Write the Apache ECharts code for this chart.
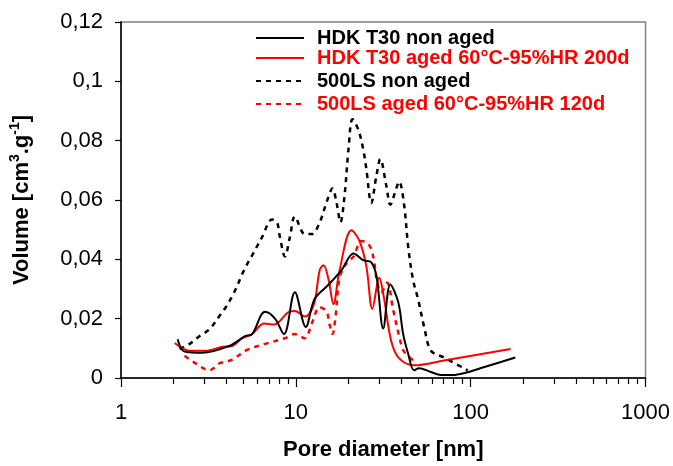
<!DOCTYPE html>
<html>
<head>
<meta charset="utf-8">
<script src="https://cdn.jsdelivr.net/npm/echarts@6/dist/echarts.min.js"></script>
<style>
html,body{margin:0;padding:0;background:#fff;}
#chart{width:673px;height:466px;}
</style>
</head>
<body>
<div id="chart"></div>
<script>
// ---- data (pore diameter [nm], volume [cm3/g]) ----
const seriesNames = [
  'HDK T30 non aged',
  'HDK T30 aged 60°C-95%HR 200d',
  '500LS non aged',
  '500LS aged 60°C-95%HR 120d'
];

const hdkNonAgedD = [2.11, 2.31, 2.92, 4.16, 5.13, 5.62, 6.67, 7.60, 8.55, 9.87, 11.4, 12.8, 15.4, 18.25, 21.4, 24.3, 27.0, 28.9, 31.6, 34.7, 38.5, 41.1, 43.9, 47.4, 50.6, 59.3, 67.5, 79.0, 91.3, 118.5, 180];
const hdkNonAgedV = [0.0131, 0.0089, 0.0085, 0.0108, 0.0141, 0.0148, 0.0223, 0.0200, 0.0148, 0.0289, 0.0172, 0.0266, 0.0315, 0.0364, 0.0420, 0.0397, 0.0390, 0.0344, 0.0167, 0.0315, 0.0256, 0.0148, 0.0082, 0.0026, 0.0033, 0.0020, 0.0010, 0.0010, 0.0016, 0.0036, 0.0069];

const hdkAgedD = [2.03, 2.47, 3.04, 3.80, 4.33, 4.93, 5.62, 6.58, 7.50, 9.12, 9.87, 11.25, 12.65, 13.7, 14.4, 15.4, 16.4, 17.8, 20.8, 23.1, 25.3, 27.4, 30.0, 32.0, 35.1, 39.0, 47.4, 70.3, 169];
const hdkAgedV = [0.0118, 0.0092, 0.0092, 0.0105, 0.0108, 0.0134, 0.0148, 0.0184, 0.0180, 0.0223, 0.0226, 0.0207, 0.0246, 0.0364, 0.0380, 0.0331, 0.0249, 0.0364, 0.0498, 0.0462, 0.0377, 0.0233, 0.0338, 0.0266, 0.0125, 0.0066, 0.0043, 0.0059, 0.0098];

const ls500NonAgedD = [2.16, 2.47, 2.81, 3.20, 3.70, 3.95, 4.44, 5.06, 5.62, 6.41, 7.31, 7.80, 8.11, 8.66, 9.25, 9.87, 11.25, 12.33, 13.7, 15.0, 16.2, 17.1, 18.0, 19.0, 20.0, 21.1, 22.8, 24.3, 25.3, 27.0, 28.9, 30.4, 32.9, 34.7, 37.5, 39.0, 41.6, 43.9, 46.8, 50.0, 54.1, 59.3, 70.3, 96.2];
const ls500NonAgedV = [0.0098, 0.0115, 0.0141, 0.0164, 0.0213, 0.0236, 0.0289, 0.0364, 0.0413, 0.0475, 0.0534, 0.0525, 0.0475, 0.0410, 0.0475, 0.0544, 0.0485, 0.0485, 0.0525, 0.0593, 0.0639, 0.0590, 0.0525, 0.0616, 0.0770, 0.0872, 0.0836, 0.0770, 0.0705, 0.0590, 0.0682, 0.0738, 0.0649, 0.0584, 0.0639, 0.0662, 0.0584, 0.0443, 0.0331, 0.0266, 0.0174, 0.0092, 0.0069, 0.0026];

const ls500AgedD = [2.31, 2.63, 3.20, 3.65, 4.33, 5.27, 6.67, 8.66, 9.87, 11.25, 12.33, 13.7, 15.0, 15.6, 16.2, 16.9, 17.8, 19.5, 21.4, 23.7, 26.0, 27.7, 29.2, 30.8, 33.3, 36.0, 39.0, 41.6, 48.7];
const ls500AgedV = [0.0075, 0.0052, 0.0026, 0.0049, 0.0062, 0.0095, 0.0115, 0.0134, 0.0148, 0.0134, 0.0184, 0.0239, 0.0223, 0.0180, 0.0148, 0.0213, 0.0338, 0.0387, 0.0410, 0.0462, 0.0452, 0.0410, 0.0321, 0.0289, 0.0321, 0.0230, 0.0141, 0.0089, 0.0052];

const xMajorTicks = [1, 10, 100, 1000];
const xMinorTicks = [2,3,4,5,6,7,8,9,20,30,40,50,60,70,80,90,200,300,400,500,600,700,800,900];
const yTicks = [0, 0.02, 0.04, 0.06, 0.08, 0.1, 0.12];

// ---- build ----
function pairs(d, v){ return d.map((x,i)=>[x, v[i]]); }
const colors = ['#000000', '#ff0000', '#000000', '#ff0000'];
const dashed = [false, false, true, true];
const dataSets = [pairs(hdkNonAgedD, hdkNonAgedV), pairs(hdkAgedD, hdkAgedV), pairs(ls500NonAgedD, ls500NonAgedV), pairs(ls500AgedD, ls500AgedV)];

const legendRowsY = [38, 58, 81, 104];
const legends = seriesNames.map((n,i)=>({
  left: 255,
  top: legendRowsY[i] - 10,
  padding: 0,
  itemWidth: 48,
  itemHeight: 14,
  itemStyle: {opacity: 0},
  data: [{name: n, textStyle: {color: colors[i]}}],
  textStyle: {fontFamily: 'Liberation Sans, Arial, sans-serif', fontSize: 20, fontWeight: 'bold', lineHeight: 20, padding: [0,0,0,8]},
  selectedMode: false
}));

const font = 'Liberation Sans, Arial, sans-serif';
const chart = echarts.init(document.getElementById('chart'), null, {renderer: 'canvas'});
chart.setOption({
  animation: false,
  backgroundColor: '#fff',
  legend: legends,
  grid: {left: 118, right: 27, top: 22, bottom: 78, show: true, borderColor: '#808080', borderWidth: 1.5, backgroundColor: 'transparent'},
  xAxis: [{
    type: 'log', logBase: 10, min: 1, max: 1000,
    name: 'Pore diameter [nm]', nameLocation: 'middle', nameGap: 61,
    nameTextStyle: {fontFamily: font, fontSize: 22, fontWeight: 'bold', color: '#000'},
    axisLine: {show: true, onZero: false, lineStyle: {color: '#000', width: 1.5}},
    axisTick: {show: true, inside: false, length: 9, lineStyle: {color: '#000', width: 1.2}, customValues: xMajorTicks},
    axisLabel: {fontFamily: font, fontSize: 22, color: '#000', margin: 24, customValues: xMajorTicks, formatter: v => String(v)},
    splitLine: {show: false}
  }, {
    type: 'log', logBase: 10, min: 1, max: 1000, position: 'bottom',
    axisLine: {show: false},
    axisTick: {show: true, inside: false, length: 6, lineStyle: {color: '#000', width: 1.2}, customValues: xMinorTicks},
    axisLabel: {show: false},
    splitLine: {show: false}
  }],
  yAxis: {
    type: 'value', min: 0, max: 0.12, interval: 0.02,
    name: '{a|Volume [cm}{s|3}{a|.g}{s|-1}{a|]}', nameLocation: 'middle', nameGap: 85,
    nameTextStyle: {
      fontFamily: font, fontSize: 22, fontWeight: 'bold', color: '#000',
      rich: {
        a: {fontFamily: font, fontSize: 22, fontWeight: 'bold', color: '#000', lineHeight: 28},
        s: {fontFamily: font, fontSize: 14, fontWeight: 'bold', color: '#000', verticalAlign: 'top', lineHeight: 14}
      }
    },
    axisLine: {show: true, lineStyle: {color: '#000', width: 1.5}},
    axisTick: {show: true, inside: false, length: 6, lineStyle: {color: '#000', width: 1.2}},
    axisLabel: {fontFamily: font, fontSize: 22, color: '#000', margin: 18,
      formatter: v => (yTicks.indexOf(+v.toFixed(2)) >= 0 ? String(+v.toFixed(2)).replace('.', ',') : '')},
    splitLine: {show: false}
  },
  series: dataSets.map((d,i)=>({
    name: seriesNames[i],
    type: 'line',
    data: d,
    xAxisIndex: 0,
    smooth: 0.35,
    showSymbol: false,
    symbol: 'none',
    clip: true,
    lineStyle: {color: colors[i], width: dashed[i] ? 2.5 : 2, type: dashed[i] ? [5, 5] : 'solid'},
    itemStyle: {color: colors[i]},
    z: 3 - i
  }))
});
</script>
</body>
</html>
